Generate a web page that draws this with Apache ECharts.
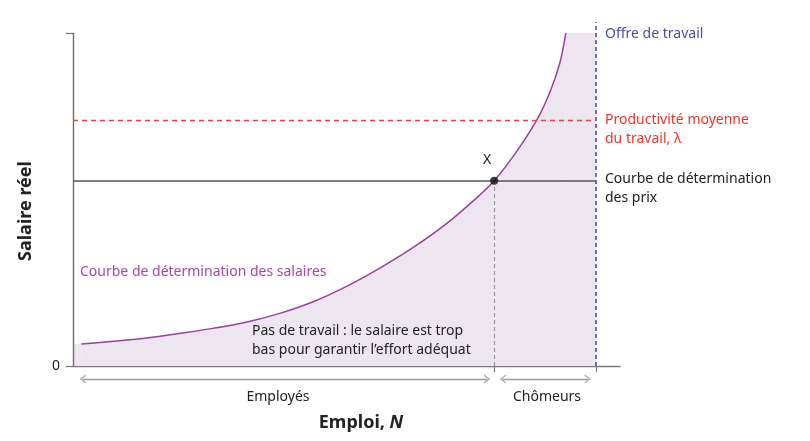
<!DOCTYPE html>
<html><head><meta charset="utf-8">
<script src="https://cdn.jsdelivr.net/npm/echarts@6/dist/echarts.min.js"></script>
<style>html,body{margin:0;padding:0;background:#fff}#c{width:810px;height:441px}</style>
</head><body><div id="c"></div>
<script>
// Wage-setting curve (employment N, real wage), axis units 0..100
const wageCurveN = [1.5, 7.5, 13.5, 19.6, 25.6, 31.8, 37.8, 43.9, 50.1, 56.1, 62.2, 68.4, 74.4, 77.0, 80.8, 84.8, 87.2, 89.0, 90.1];
const wageCurveW = [6.6, 7.4, 8.4, 9.8, 11.3, 13.2, 15.8, 19.3, 24.0, 29.4, 35.6, 42.9, 51.4, 55.6, 63.7, 73.9, 82.3, 91.0, 100];
const priceSettingW = 55.6;
const productivityW = 73.9;
const labourSupplyN = 95.6;
const equilibriumN = 77.0;
const wageAxisTop = 100;
const wageAxisMax = 103.3;
const employedRange = [1.8, 75.7];
const unemployedRange = [78.6, 94.1];
const yTickValues = [0, 100];
const yLabelValues = [0];

const FONT = '"Noto Sans", sans-serif';
const curve = wageCurveN.map((n, i) => [n, wageCurveW[i]]);
const leftStrip = [[0, wageCurveW[0]], [wageCurveN[0], wageCurveW[0]]];
const rightBlock = [[wageCurveN[wageCurveN.length - 1], wageAxisTop], [labourSupplyN, wageAxisTop]];
const shade = '#ede6f1';
const chevron = 'path://M0,10 L5,0 L10,10 L8.6,10 L5,3 L1.4,10 Z';

const chart = echarts.init(document.getElementById('c'));
chart.setOption({
  animation: false,
  grid: [
    {left: 73, right: 190, top: 22, bottom: 75},
    {left: 73, right: 190, top: 370, height: 18}
  ],
  xAxis: [
    {type: 'value', gridIndex: 0, min: 0, max: 100,
     axisLine: {show: true, lineStyle: {color: '#7a7a7a', width: 1.3}},
     axisTick: {show: true, customValues: [equilibriumN, labourSupplyN], length: 6, inside: false, lineStyle: {color: '#7a7a7a', width: 1.2}},
     axisLabel: {show: false}, splitLine: {show: false}},
    {type: 'value', gridIndex: 1, min: 0, max: 100, show: false}
  ],
  yAxis: [
    {type: 'value', gridIndex: 0, min: 0, max: wageAxisMax,
     axisLine: {show: false},
     axisTick: {show: true, customValues: yTickValues, length: 7, lineStyle: {color: '#7a7a7a', width: 1.3}},
     axisLabel: {show: true, customValues: yLabelValues, margin: 13, fontFamily: FONT, fontSize: 14, color: '#222'},
     splitLine: {show: false}},
    {type: 'value', gridIndex: 1, min: 0, max: 1, show: false}
  ],
  series: [
    {type: 'line', data: curve, smooth: 0.35, showSymbol: false, symbol: 'none',
     lineStyle: {width: 0, opacity: 0}, areaStyle: {color: shade, opacity: 1}, z: 1, silent: true},
    {type: 'line', data: leftStrip, showSymbol: false, symbol: 'none',
     lineStyle: {width: 0, opacity: 0}, areaStyle: {color: shade, opacity: 1}, z: 1, silent: true},
    {type: 'line', data: rightBlock, showSymbol: false, symbol: 'none',
     lineStyle: {width: 0, opacity: 0}, areaStyle: {color: shade, opacity: 1}, z: 1, silent: true},
    {type: 'line', data: [], z: 3, silent: true,
     markLine: {symbol: 'none', silent: true, animation: false, label: {show: false},
       data: [
         [{coord: [0, 0], lineStyle: {color: '#6e6e6e', width: 1.4, type: 'solid'}}, {coord: [0, wageAxisTop]}],
         [{coord: [equilibriumN, 0], lineStyle: {color: '#9a9a9a', width: 1.2, type: [4, 3]}}, {coord: [equilibriumN, priceSettingW]}],
         [{coord: [0, productivityW], lineStyle: {color: '#e8453c', width: 1.4, type: [5, 4]}}, {coord: [labourSupplyN, productivityW]}],
         [{coord: [0, priceSettingW], lineStyle: {color: '#555555', width: 1.6, type: 'solid'}}, {coord: [labourSupplyN, priceSettingW]}],
         [{coord: [labourSupplyN, 0], lineStyle: {color: '#4f52a3', width: 1.6, type: [4, 3]}}, {coord: [labourSupplyN, wageAxisMax]}]
       ]}},
    {type: 'line', data: curve, smooth: 0.35, showSymbol: false, symbol: 'none',
     lineStyle: {color: '#9c3f9d', width: 1.5}, z: 4, silent: true},
    {type: 'scatter', data: [[equilibriumN, priceSettingW]], symbolSize: 8,
     itemStyle: {color: '#111'}, z: 5, silent: true},
    {type: 'line', xAxisIndex: 1, yAxisIndex: 1, data: [], silent: true,
     markLine: {symbol: [chevron, chevron], symbolSize: [9, 6], silent: true, animation: false, label: {show: false},
       lineStyle: {color: '#9a9a9a', width: 1.3, type: 'solid'},
       data: [
         [{coord: [employedRange[0], 0.5]}, {coord: [employedRange[1], 0.5]}],
         [{coord: [unemployedRange[0], 0.5]}, {coord: [unemployedRange[1], 0.5]}]
       ]}}
  ],
  graphic: [
    {type: 'text', z: 100, x: 26, y: 211, rotation: Math.PI / 2, style: {text: 'Salaire réel', font: 'bold 18px ' + FONT, fill: '#222', align: 'center', verticalAlign: 'middle'}},
    {type: 'text', z: 100, x: 361, y: 423, style: {text: '{a|Emploi, }{b|N}', align: 'center', verticalAlign: 'middle',
      rich: {a: {font: 'bold 18px ' + FONT, fill: '#222'}, b: {font: 'italic bold 18px ' + FONT, fill: '#222'}}}},
    {type: 'text', z: 100, x: 278, y: 397, style: {text: 'Employés', font: '14px ' + FONT, fill: '#222', align: 'center', verticalAlign: 'middle'}},
    {type: 'text', z: 100, x: 547, y: 397, style: {text: 'Chômeurs', font: '14px ' + FONT, fill: '#222', align: 'center', verticalAlign: 'middle'}},
    {type: 'text', z: 100, x: 487, y: 160, style: {text: 'X', font: '14px ' + FONT, fill: '#222', align: 'center', verticalAlign: 'middle'}},
    {type: 'text', z: 100, x: 605, y: 34, style: {text: 'Offre de travail', font: '14px ' + FONT, fill: '#4a4ea0', align: 'left', verticalAlign: 'middle'}},
    {type: 'text', z: 100, x: 605, y: 130, style: {text: 'Productivité moyenne\ndu travail, λ', font: '14px ' + FONT, lineHeight: 19, fill: '#e3392c', align: 'left', verticalAlign: 'middle'}},
    {type: 'text', z: 100, x: 605, y: 189, style: {text: 'Courbe de détermination\ndes prix', font: '14px ' + FONT, lineHeight: 19, fill: '#222', align: 'left', verticalAlign: 'middle'}},
    {type: 'text', z: 100, x: 80, y: 272, style: {text: 'Courbe de détermination des salaires', font: '14px ' + FONT, fill: '#a449a2', align: 'left', verticalAlign: 'middle'}},
    {type: 'text', z: 100, x: 252, y: 341, style: {text: 'Pas de travail : le salaire est trop\nbas pour garantir l’effort adéquat', font: '14px ' + FONT, lineHeight: 19, fill: '#222', align: 'left', verticalAlign: 'middle'}}
  ]
});
</script></body></html>
